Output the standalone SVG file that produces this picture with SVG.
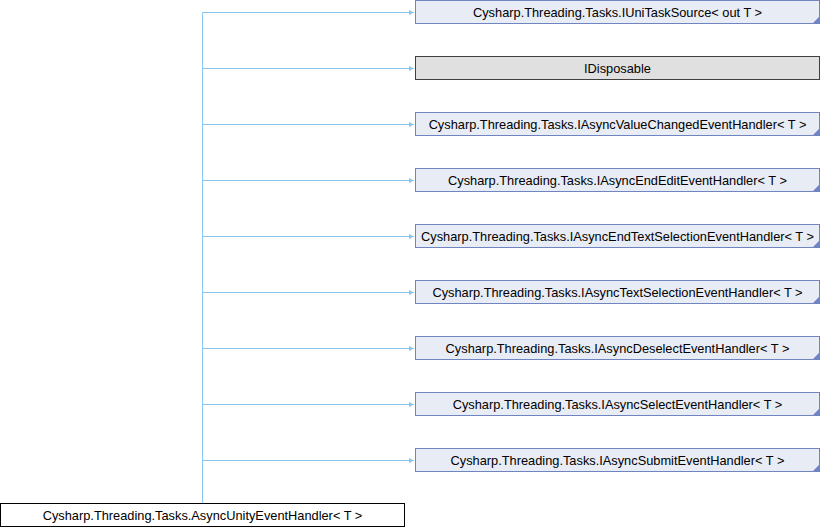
<svg xmlns="http://www.w3.org/2000/svg" width="820" height="528" viewBox="0 0 820 528">
<style>
.n rect{fill:#e8ecf5;stroke:#6f84c0;stroke-width:1}
.n path{fill:#6f84c0;stroke:none}
.x rect{fill:#e0e0e0;stroke:#404040;stroke-width:1}
.m rect{fill:#ffffff;stroke:#000000;stroke-width:1}
text{font-family:"Liberation Sans",Arial,sans-serif;font-size:12.8px;fill:#000;text-anchor:middle}
.e{fill:none;stroke:#8bc6ee;stroke-width:1}
</style>
<defs>
<marker id="a" markerWidth="6" markerHeight="6" refX="5" refY="3" orient="auto" markerUnits="userSpaceOnUse">
<path d="M0,0.5 L5,3 L0,5.5 Z" fill="#8bc6ee"/>
</marker>
</defs>
<g id="edges">
<path class="e" d="M202.5,503.5 V12.5"/>
<path class="e" d="M202.5,12.5 H414" marker-end="url(#a)"/>
<path class="e" d="M202.5,68.5 H414" marker-end="url(#a)"/>
<path class="e" d="M202.5,124.5 H414" marker-end="url(#a)"/>
<path class="e" d="M202.5,180.5 H414" marker-end="url(#a)"/>
<path class="e" d="M202.5,236.5 H414" marker-end="url(#a)"/>
<path class="e" d="M202.5,292.5 H414" marker-end="url(#a)"/>
<path class="e" d="M202.5,348.5 H414" marker-end="url(#a)"/>
<path class="e" d="M202.5,404.5 H414" marker-end="url(#a)"/>
<path class="e" d="M202.5,460.5 H414" marker-end="url(#a)"/>
</g>
<g id="n1" class="n"><rect x="415.5" y="0.5" width="404" height="23"/><path d="M819,17 L819,23 L813,23 Z"/><text x="617.5" y="16.5">Cysharp.Threading.Tasks.IUniTaskSource&lt; out T &gt;</text></g>
<g id="n2" class="x"><rect x="415.5" y="56.5" width="404" height="23"/><text x="617.5" y="72.5">IDisposable</text></g>
<g id="n3" class="n"><rect x="415.5" y="112.5" width="404" height="23"/><path d="M819,129 L819,135 L813,135 Z"/><text x="617.5" y="128.5">Cysharp.Threading.Tasks.IAsyncValueChangedEventHandler&lt; T &gt;</text></g>
<g id="n4" class="n"><rect x="415.5" y="168.5" width="404" height="23"/><path d="M819,185 L819,191 L813,191 Z"/><text x="617.5" y="184.5">Cysharp.Threading.Tasks.IAsyncEndEditEventHandler&lt; T &gt;</text></g>
<g id="n5" class="n"><rect x="415.5" y="224.5" width="404" height="23"/><path d="M819,241 L819,247 L813,247 Z"/><text x="617.5" y="240.5">Cysharp.Threading.Tasks.IAsyncEndTextSelectionEventHandler&lt; T &gt;</text></g>
<g id="n6" class="n"><rect x="415.5" y="280.5" width="404" height="23"/><path d="M819,297 L819,303 L813,303 Z"/><text x="617.5" y="296.5">Cysharp.Threading.Tasks.IAsyncTextSelectionEventHandler&lt; T &gt;</text></g>
<g id="n7" class="n"><rect x="415.5" y="336.5" width="404" height="23"/><path d="M819,353 L819,359 L813,359 Z"/><text x="617.5" y="352.5">Cysharp.Threading.Tasks.IAsyncDeselectEventHandler&lt; T &gt;</text></g>
<g id="n8" class="n"><rect x="415.5" y="392.5" width="404" height="23"/><path d="M819,409 L819,415 L813,415 Z"/><text x="617.5" y="408.5">Cysharp.Threading.Tasks.IAsyncSelectEventHandler&lt; T &gt;</text></g>
<g id="n9" class="n"><rect x="415.5" y="448.5" width="404" height="23"/><path d="M819,465 L819,471 L813,471 Z"/><text x="617.5" y="464.5">Cysharp.Threading.Tasks.IAsyncSubmitEventHandler&lt; T &gt;</text></g>
<g id="n0" class="m"><rect x="0.5" y="503.5" width="404" height="23"/><text x="202.5" y="519.5">Cysharp.Threading.Tasks.AsyncUnityEventHandler&lt; T &gt;</text></g>
</svg>
